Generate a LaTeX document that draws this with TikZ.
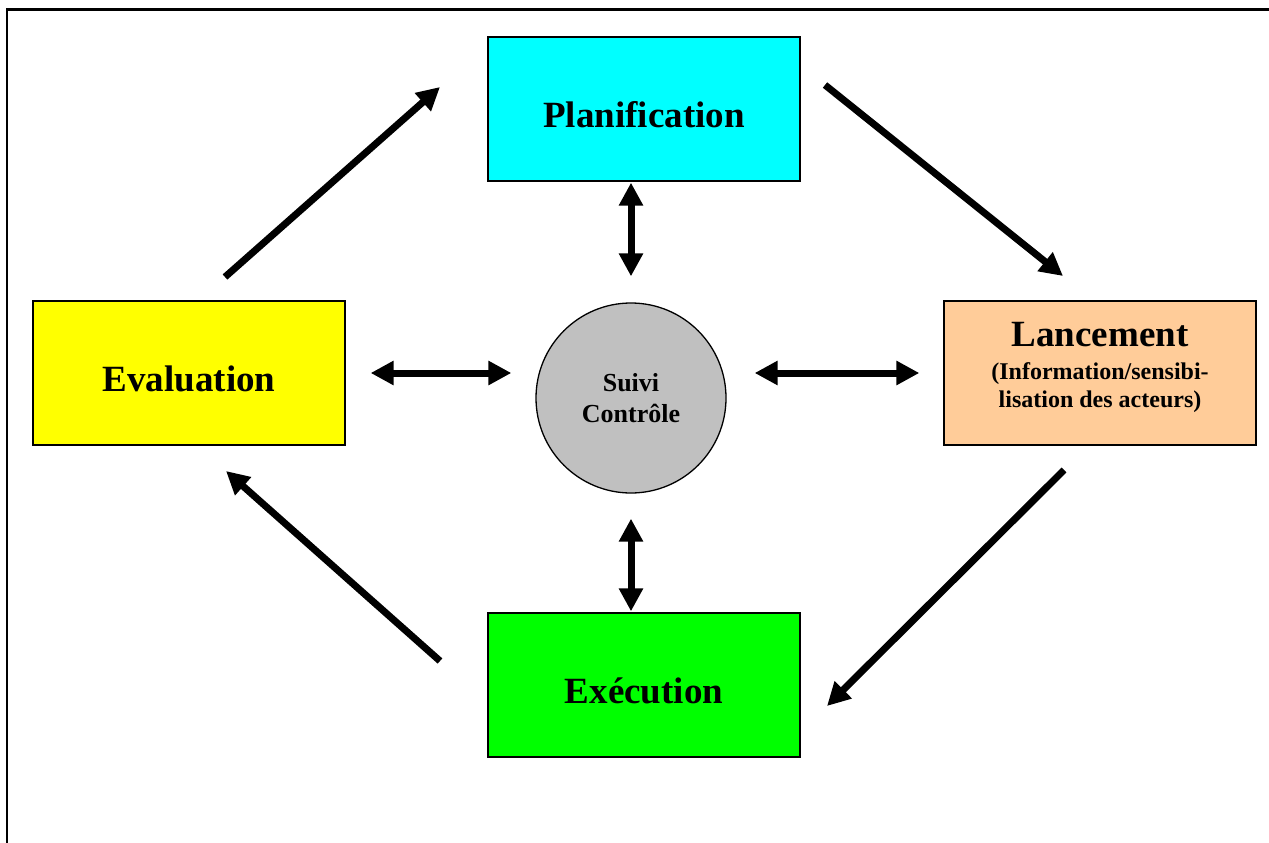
\documentclass[tikz,border=0pt]{standalone}
\usepackage{fontspec}
\setmainfont{Liberation Serif}
\usetikzlibrary{arrows.meta}
\begin{document}
\begin{tikzpicture}[x=1pt,y=-1pt,
  box/.style={draw=black,line width=1.3pt,minimum width=312pt,minimum height=144pt,inner sep=0pt,align=center,text height=36pt,text depth=0pt,font=\fontsize{37}{42}\selectfont\bfseries},
  arr/.style={line width=7pt,-{Triangle[length=23pt,width=23pt]}},
  darr/.style={line width=7pt,{Triangle[length=23pt,width=23pt]}-{Triangle[length=23pt,width=23pt]}}]
\useasboundingbox (0,0) rectangle (1269,843);
\begin{scope}
\clip (0,0) rectangle (1269,843);
\draw[line width=2.6pt] (7,9.5) rectangle (1300,880);
\end{scope}
\node[box,fill={rgb,255:red,0;green,255;blue,255}] (plan) at (644,109) {Planification};
\node[box,fill={rgb,255:red,255;green,255;blue,0}] (eval) at (189,373) {Evaluation};
\node[box,fill={rgb,255:red,255;green,204;blue,153}] (lanc) at (1100,373) {};
\node[align=center,font=\fontsize{24}{28}\selectfont\bfseries,anchor=base,inner sep=0pt] (lanctxt) at (1100,407) {{\fontsize{37}{40}\selectfont Lancement}\\[5pt]{\fontsize{24}{28}\selectfont (Information/sensibi-}\\{\fontsize{24}{28}\selectfont lisation des acteurs)}};
\node[box,fill={rgb,255:red,0;green,255;blue,0}] (exec) at (644,685) {Exécution};
\node[circle,draw=black,line width=1.3pt,fill={rgb,255:red,192;green,192;blue,192},minimum size=190pt,inner sep=0pt,align=center,font=\fontsize{26}{31}\selectfont\bfseries] (suivi) at (631,398) {Suivi\\Contrôle};
% diagonal arrows
\coordinate (e1) at (225,277); \coordinate (p1) at (440,87);
\coordinate (p2) at (825,85); \coordinate (l1) at (1063,276);
\coordinate (l2) at (1064,470); \coordinate (x1) at (827,706);
\coordinate (x2) at (440,661); \coordinate (e2) at (226,471);
\draw[arr] (e1) -- (p1);
\draw[arr] (p2) -- (l1);
\draw[arr] (l2) -- (x1);
\draw[arr] (x2) -- (e2);
% double arrows
\draw[darr,shorten <=1pt,shorten >=26pt] (plan.south -| suivi) -- (suivi.north);
\draw[darr,shorten <=25pt,shorten >=1pt] (suivi.south) -- (exec.north -| suivi);
\draw[darr,shorten <=25pt,shorten >=24pt] (eval.east) -- (suivi.west |- eval.east);
\draw[darr,shorten <=28pt,shorten >=24pt] (suivi.east |- lanc.west) -- (lanc.west);
\end{tikzpicture}
\end{document}
